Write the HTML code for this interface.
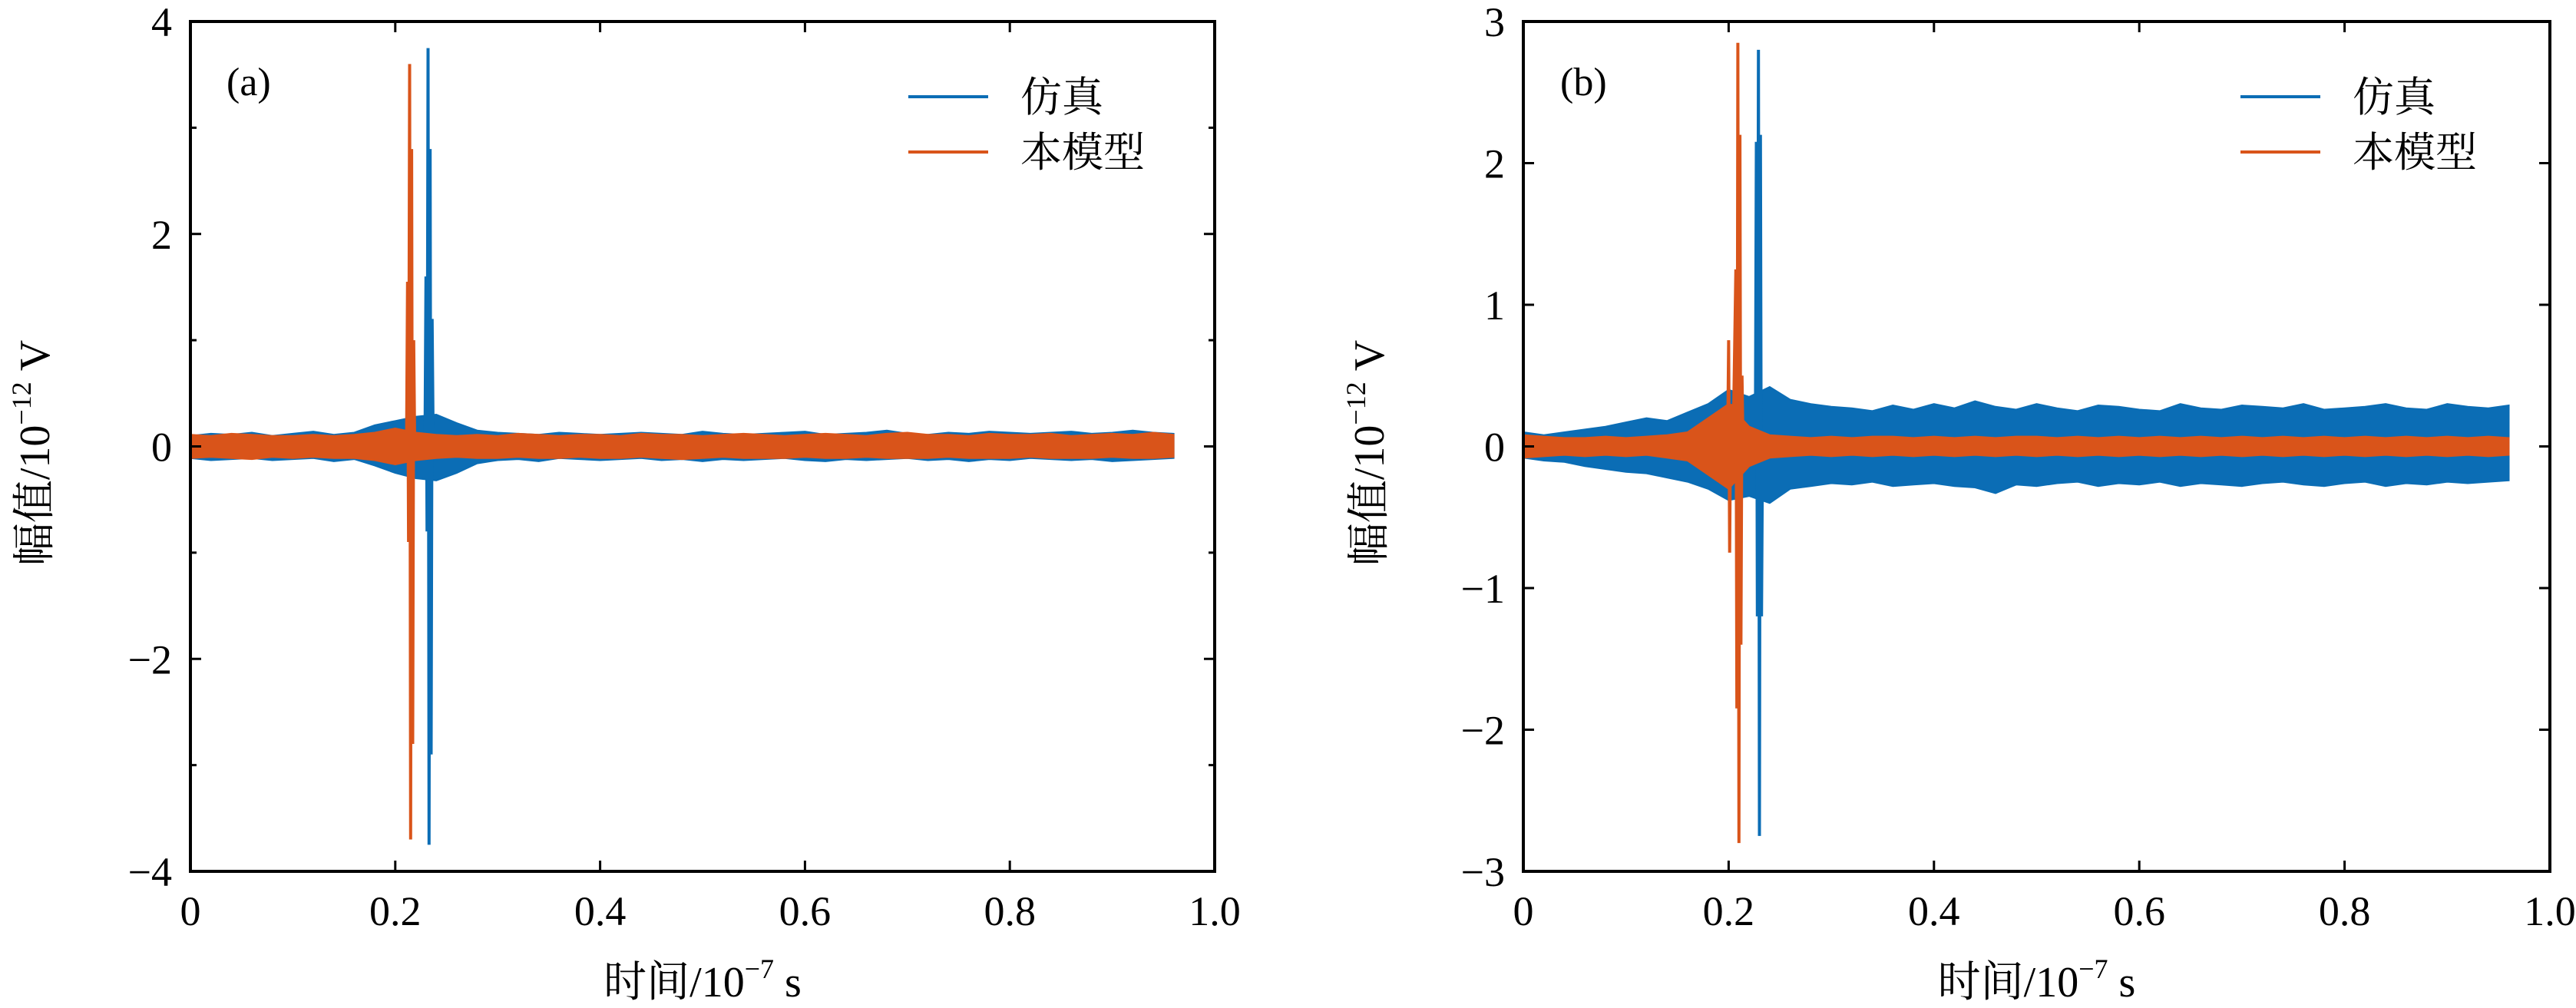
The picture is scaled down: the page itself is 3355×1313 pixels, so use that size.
<!DOCTYPE html>
<html><head><meta charset="utf-8">
<style>
html,body{margin:0;padding:0;background:#fff;}
svg{display:block;}
</style></head>
<body>
<svg id="fig" width="3355" height="1313" viewBox="0 0 3355 1313" xmlns="http://www.w3.org/2000/svg" font-family="'Liberation Serif', 'Noto Serif CJK SC', serif">
</svg>
<script>
// ---- data ----
const binT = [0,0.02,0.04,0.06,0.08,0.10,0.12,0.14,0.16,0.18,0.20,0.22,0.24,0.26,0.28,0.30,0.32,0.34,0.36,0.38,0.40,0.42,0.44,0.46,0.48,0.50,0.52,0.54,0.56,0.58,0.60,0.62,0.64,0.66,0.68,0.70,0.72,0.74,0.76,0.78,0.80,0.82,0.84,0.86,0.88,0.90,0.92,0.94,0.96];
const aSimUpper = [0.10,0.12,0.11,0.13,0.10,0.12,0.14,0.11,0.13,0.20,0.24,0.28,0.30,0.22,0.15,0.13,0.12,0.11,0.13,0.12,0.11,0.12,0.13,0.12,0.11,0.14,0.12,0.11,0.12,0.13,0.14,0.11,0.12,0.13,0.15,0.12,0.11,0.13,0.12,0.14,0.13,0.12,0.13,0.14,0.12,0.13,0.15,0.13,0.12];
const aSimLower = [-0.11,-0.13,-0.12,-0.11,-0.13,-0.12,-0.11,-0.14,-0.12,-0.18,-0.25,-0.30,-0.32,-0.25,-0.16,-0.13,-0.12,-0.14,-0.11,-0.12,-0.13,-0.12,-0.11,-0.13,-0.12,-0.14,-0.12,-0.13,-0.12,-0.11,-0.13,-0.14,-0.12,-0.13,-0.12,-0.11,-0.13,-0.12,-0.14,-0.12,-0.13,-0.11,-0.12,-0.13,-0.12,-0.14,-0.13,-0.12,-0.11];
const aModUpper = [0.11,0.10,0.12,0.11,0.10,0.10,0.11,0.10,0.11,0.13,0.17,0.13,0.11,0.10,0.11,0.10,0.12,0.11,0.10,0.11,0.11,0.10,0.12,0.11,0.11,0.10,0.11,0.12,0.11,0.10,0.11,0.12,0.11,0.10,0.12,0.13,0.11,0.11,0.10,0.12,0.11,0.11,0.12,0.10,0.11,0.12,0.11,0.13,0.11];
const aModLower = [-0.11,-0.10,-0.11,-0.12,-0.10,-0.11,-0.10,-0.11,-0.11,-0.13,-0.17,-0.13,-0.11,-0.10,-0.11,-0.11,-0.10,-0.11,-0.11,-0.10,-0.11,-0.11,-0.10,-0.11,-0.12,-0.11,-0.10,-0.11,-0.11,-0.11,-0.10,-0.11,-0.11,-0.10,-0.11,-0.11,-0.11,-0.10,-0.11,-0.11,-0.11,-0.10,-0.11,-0.11,-0.11,-0.10,-0.11,-0.11,-0.10];
const aSimSpikeT = [0.229,0.230,0.231,0.232,0.233,0.234,0.235,0.236,0.237];
const aSimSpikeV = [0,1.6,-0.8,3.75,-3.75,2.8,-2.9,1.2,0];
const aModSpikeT = [0.211,0.212,0.213,0.214,0.215,0.216,0.217,0.218,0.219];
const aModSpikeV = [0,1.55,-0.9,3.6,-3.7,2.8,-2.8,1.0,0];
const bSimUpper = [0.10,0.08,0.10,0.12,0.14,0.17,0.20,0.18,0.24,0.30,0.40,0.35,0.42,0.33,0.30,0.28,0.27,0.25,0.29,0.26,0.30,0.27,0.32,0.28,0.26,0.30,0.27,0.25,0.29,0.28,0.26,0.25,0.30,0.27,0.26,0.29,0.28,0.27,0.30,0.26,0.27,0.28,0.30,0.27,0.26,0.30,0.28,0.27,0.29];
const bSimLower = [-0.08,-0.10,-0.11,-0.14,-0.16,-0.18,-0.19,-0.22,-0.25,-0.30,-0.38,-0.35,-0.40,-0.30,-0.28,-0.26,-0.27,-0.25,-0.28,-0.27,-0.26,-0.28,-0.29,-0.33,-0.27,-0.28,-0.26,-0.25,-0.28,-0.26,-0.27,-0.25,-0.28,-0.26,-0.27,-0.28,-0.26,-0.25,-0.27,-0.28,-0.26,-0.25,-0.28,-0.26,-0.27,-0.25,-0.26,-0.25,-0.24];
const bModUpper = [0.08,0.07,0.06,0.06,0.07,0.06,0.07,0.08,0.10,0.20,0.30,0.14,0.08,0.07,0.06,0.07,0.06,0.07,0.07,0.06,0.07,0.06,0.07,0.06,0.07,0.07,0.06,0.07,0.06,0.07,0.06,0.07,0.06,0.07,0.06,0.07,0.06,0.07,0.06,0.07,0.06,0.07,0.06,0.07,0.06,0.07,0.06,0.07,0.06];
const bModLower = [-0.08,-0.07,-0.06,-0.07,-0.06,-0.07,-0.06,-0.08,-0.10,-0.20,-0.30,-0.14,-0.08,-0.07,-0.06,-0.07,-0.06,-0.07,-0.06,-0.07,-0.06,-0.07,-0.06,-0.07,-0.06,-0.07,-0.06,-0.07,-0.06,-0.07,-0.06,-0.07,-0.06,-0.07,-0.06,-0.07,-0.06,-0.07,-0.06,-0.07,-0.06,-0.07,-0.06,-0.07,-0.06,-0.07,-0.06,-0.07,-0.06];
const bSimSpikeT = [0.226,0.227,0.228,0.229,0.230,0.231,0.232,0.233];
const bSimSpikeV = [0,2.15,-1.2,2.8,-2.75,2.2,-1.2,0];
const bModSpikeT = [0.199,0.200,0.201,0.202,0.204,0.207,0.208,0.209,0.210,0.211,0.212,0.213,0.214];
const bModSpikeV = [0,0.75,-0.75,0.3,-0.2,1.25,-1.85,2.85,-2.8,2.2,-1.4,0.5,0];
const xTicks = [0,0.2,0.4,0.6,0.8,1.0];
const xTickLabels = ["0","0.2","0.4","0.6","0.8","1.0"];
const aYTicks = [-4,-2,0,2,4];
const aYTickLabels = ["\u22124","\u22122","0","2","4"];
const aYMinor = [-3,-1,1,3];
const bYTicks = [-3,-2,-1,0,1,2,3];
const bYTickLabels = ["\u22123","\u22122","\u22121","0","1","2","3"];

const NS="http://www.w3.org/2000/svg";
const svg=document.getElementById('fig');
const FONT="'Liberation Serif', 'Noto Serif CJK SC', serif";
function mk(tag,attrs,parent){const e=document.createElementNS(NS,tag);for(const k in attrs)e.setAttribute(k,attrs[k]);(parent||svg).appendChild(e);return e;}
const BLUE="#0b6db5", ORANGE="#d9541a";

function panel(cfg){
  const g=mk('g',{'font-family':FONT});
  
  
  const L=cfg.left,R=cfg.right,T=28,B=1135;
  const xs=v=>L+(v-0)/(1.0)*(R-L);
  const ys=v=>B-(v-cfg.ymin)/(cfg.ymax-cfg.ymin)*(B-T);
  const clip=mk('clipPath',{id:'clip'+cfg.tag},g);
  mk('rect',{x:L,y:T,width:R-L,height:B-T},clip);
  const plot=mk('g',{'clip-path':'url(#clip'+cfg.tag+')'},g);
  function band(up,lo,color,name){
    const pts=[];
    for(let i=0;i<binT.length;i++){pts.push([xs(binT[i]),ys(up[i])]);}
    for(let i=binT.length-1;i>=0;i--){pts.push([xs(binT[i]),ys(lo[i])]);}
    const d='M'+pts.map(p=>p[0].toFixed(1)+','+p[1].toFixed(1)).join(' L')+' Z';
    const p=mk('path',{d:d,fill:color,stroke:color,'stroke-width':2},plot);
    
    
  }
  function spike(T_,V_,color,name){
    const d='M'+T_.map((t,i)=>xs(t).toFixed(1)+','+ys(V_[i]).toFixed(1)).join(' L');
    const p=mk('path',{d:d,fill:'none',stroke:color,'stroke-width':4,'stroke-linejoin':'miter'},plot);
    
    
  }
  band(cfg.su,cfg.sl,BLUE,'sim-noise-band');
  spike(cfg.sst,cfg.ssv,BLUE,'sim-spike');
  band(cfg.mu,cfg.ml,ORANGE,'model-noise-band');
  spike(cfg.mst,cfg.msv,ORANGE,'model-spike');
  const fr=mk('rect',{x:L,y:T,width:R-L,height:B-T,fill:'none',stroke:'#000','stroke-width':4},g);
  
  
  xTicks.forEach((v,i)=>{
    const x=xs(v);
    mk('line',{x1:x,x2:x,y1:B,y2:B-14,stroke:'#000','stroke-width':3},g);
    mk('line',{x1:x,x2:x,y1:T,y2:T+14,stroke:'#000','stroke-width':3},g);
    const t=mk('text',{x:x,y:B+70,'font-size':54,'text-anchor':'middle'},g);
    t.textContent=xTickLabels[i];
    
    
  });
  cfg.yt.forEach((v,i)=>{
    const y=ys(v);
    mk('line',{x1:L,x2:L+14,y1:y,y2:y,stroke:'#000','stroke-width':3},g);
    mk('line',{x1:R,x2:R-14,y1:y,y2:y,stroke:'#000','stroke-width':3},g);
    const t=mk('text',{x:L-24,y:y+19,'font-size':54,'text-anchor':'end'},g);
    t.textContent=cfg.ytl[i];
    
    
  });
  (cfg.ym||[]).forEach(v=>{
    const y=ys(v);
    mk('line',{x1:L,x2:L+8,y1:y,y2:y,stroke:'#000','stroke-width':3},g);
    mk('line',{x1:R,x2:R-8,y1:y,y2:y,stroke:'#000','stroke-width':3},g);
  });
  const pl=mk('text',{x:cfg.lblX,y:124,'font-size':52},g);
  pl.textContent=cfg.lbl;
  
  
  const lg=mk('g',{},g);
  
  
  [[BLUE,'仿真',126],[ORANGE,'本模型',198]].forEach(([c,s,y])=>{
    const e=mk('g',{},lg);
    
    
    mk('line',{x1:cfg.legX,x2:cfg.legX+104,y1:y,y2:y,stroke:c,'stroke-width':4},e);
    const t=mk('text',{x:cfg.legX+146,y:y+19,'font-size':54},e);
    t.textContent=s;
  });
  const yl=mk('text',{x:0,y:0,'font-size':56,'text-anchor':'middle',transform:`translate(${cfg.yLabX},590) rotate(-90)`},g);
  yl.innerHTML='幅值/10<tspan dy="-24" font-size="36">−12</tspan><tspan dy="24"> V</tspan>';
  
  
  const xl=mk('text',{x:(L+R)/2,y:1298,'font-size':56,'text-anchor':'middle'},g);
  xl.innerHTML='时间/10<tspan dy="-24" font-size="36">−7</tspan><tspan dy="24"> s</tspan>';
  
  
}
panel({name:'panel-a',tag:'a',left:248,right:1582,ymin:-4,ymax:4,su:aSimUpper,sl:aSimLower,mu:aModUpper,ml:aModLower,
  sst:aSimSpikeT,ssv:aSimSpikeV,mst:aModSpikeT,msv:aModSpikeV,yt:aYTicks,ytl:aYTickLabels,ym:aYMinor,
  lbl:'(a)',lblX:295,legX:1183,yLabX:64});
panel({name:'panel-b',tag:'b',left:1984,right:3321,ymin:-3,ymax:3,su:bSimUpper,sl:bSimLower,mu:bModUpper,ml:bModLower,
  sst:bSimSpikeT,ssv:bSimSpikeV,mst:bModSpikeT,msv:bModSpikeV,yt:bYTicks,ytl:bYTickLabels,ym:[],
  lbl:'(b)',lblX:2032,legX:2918,yLabX:1802});
</script>
</body></html>
